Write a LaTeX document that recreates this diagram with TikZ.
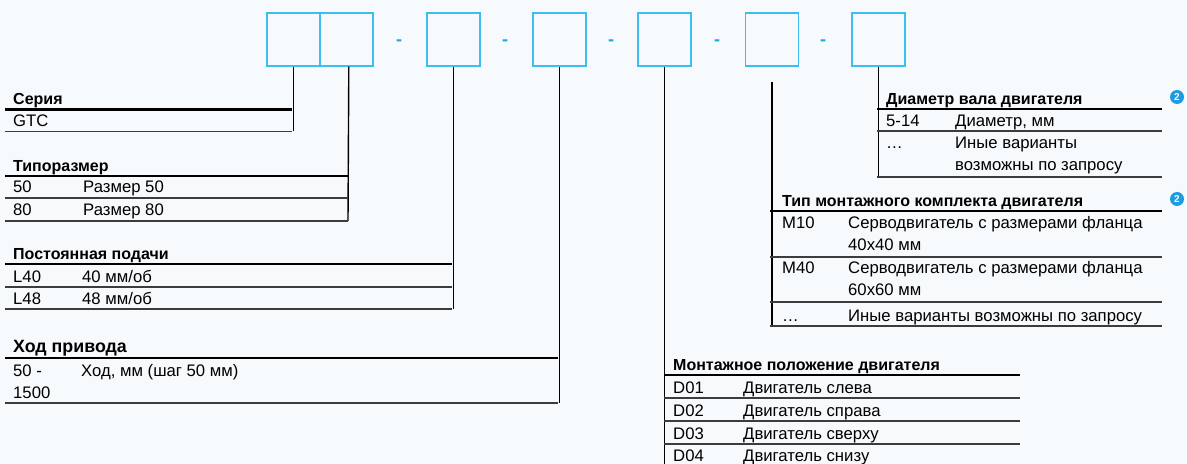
\documentclass[tikz,border=0pt]{standalone}
\usepackage{fontspec}
\setmainfont{Liberation Sans}
\definecolor{bg}{RGB}{247,250,252}
\definecolor{boxblue}{RGB}{60,190,240}
\definecolor{dashblue}{RGB}{30,165,230}
\definecolor{badgeblue}{RGB}{30,155,225}
\definecolor{rulegray}{RGB}{60,60,60}
\begin{document}
\begin{tikzpicture}[x=1bp,y=-1bp,
  codebox/.style={draw=boxblue,line width=1.6bp,minimum width=53bp,minimum height=53bp,inner sep=0,anchor=north west},
  dashtxt/.style={anchor=base,inner sep=0,text=dashblue,font=\fontsize{18bp}{18bp}\selectfont\bfseries},
  txt/.style={anchor=base west,inner sep=0,font=\fontsize{16.7bp}{22bp}\selectfont},
  ttl/.style={anchor=base west,inner sep=0,font=\fontsize{16bp}{20bp}\selectfont\bfseries},
  bigttl/.style={anchor=base west,inner sep=0,font=\fontsize{17.8bp}{22bp}\selectfont\bfseries},
  thickrule/.style={line width=2.6bp,black},
  thinrule/.style={line width=1.4bp,rulegray},
  conn/.style={line width=1.4bp,black},
  badge/.style={circle,fill=badgeblue,minimum size=14bp,inner sep=0,text=white,font=\fontsize{10bp}{10bp}\selectfont\bfseries}]
\fill[bg] (0,0) rectangle (1187,464);
\useasboundingbox (0,0) rectangle (1187,464);

% code boxes
\node[codebox] (b1) at (266,12) {};
\node[codebox] (b2) at (319,12) {};
\node[codebox] (b3) at (426,12) {};
\node[codebox] (b4) at (532,12) {};
\node[codebox] (b5) at (637,12) {};
\node[codebox] (b6) at (744.5,12) {};
\node[codebox] (b7) at (851,12) {};
% dashes
\node[dashtxt] (d1) at (399,46) {-};
\node[dashtxt] (d2) at (505,46) {-};
\node[dashtxt] (d3) at (611,46) {-};
\node[dashtxt] (d4) at (717,46) {-};
\node[dashtxt] (d5) at (823,46) {-};

% table anchor coordinates
\coordinate (serbot) at (292,131.5);
\coordinate (tipbot) at (348,221);
\coordinate (podbot) at (452,309);
\coordinate (hodbot) at (558,403);
\coordinate (montbot) at (664,464);
\coordinate (kompbot) at (770,326);
\coordinate (diambot) at (877,177);

% connectors
\draw[conn] (b1.south) -- (b1.south |- serbot);
\draw[conn] ([xshift=2.5bp]b2.south) -- (tipbot);
\draw[conn] (b3.south) -- (b3.south |- podbot);
\draw[conn] (b4.south) -- (b4.south |- hodbot);
\draw[conn] (b5.south) -- (b5.south |- montbot);
\draw[conn] ([yshift=-15bp]b6.south) -- (b6.south |- kompbot);
\draw[conn] (b7.south) -- (b7.south |- diambot);

% Серия
\node[ttl] (t1) at (13,105) {Серия};
\draw[thickrule] (5,109.5) -- (292,109.5);
\node[txt] (t1a) at (13,127) {GTC};
\draw[thinrule] (5,131.5) -- (serbot);

% Типоразмер
\node[ttl] (t2) at (13,171.5) {Типоразмер};
\draw[thickrule] (5,176) -- (348,176);
\node[txt] (t2a) at (13,193) {50};
\node[txt] (t2b) at (83,193) {Размер 50};
\draw[thinrule] (5,198) -- (348,198);
\node[txt] (t2c) at (13,216) {80};
\node[txt] (t2d) at (83,216) {Размер 80};
\draw[thinrule] (5,221) -- (tipbot);

% Постоянная подачи
\node[ttl] (t3) at (13,259.5) {Постоянная подачи};
\draw[thickrule] (5,264) -- (452,264);
\node[txt] (t3a) at (13,283) {L40};
\node[txt] (t3b) at (82,283) {40 мм/об};
\draw[thinrule] (5,287) -- (452,287);
\node[txt] (t3c) at (13,305) {L48};
\node[txt] (t3d) at (82,305) {48 мм/об};
\draw[thinrule] (5,309) -- (podbot);

% Ход привода
\node[bigttl] (t4) at (13,353) {Ход привода};
\draw[thickrule] (5,358) -- (558,358);
\node[txt] (t4a) at (13,377) {50 -};
\node[txt] (t4b) at (81,377) {Ход, мм (шаг 50 мм)};
\node[txt] (t4c) at (13,399) {1500};
\draw[thinrule] (5,403) -- (hodbot);

% Монтажное положение двигателя
\node[ttl] (t5) at (673,370.5) {Монтажное положение двигателя};
\draw[thickrule] (664,375) -- (1020,375);
\node[txt] (t5a) at (673,394) {D01};
\node[txt] (t5b) at (743,394) {Двигатель слева};
\draw[thinrule] (664,398) -- (1020,398);
\node[txt] (t5c) at (673,417) {D02};
\node[txt] (t5d) at (743,417) {Двигатель справа};
\draw[thinrule] (664,421) -- (1020,421);
\node[txt] (t5e) at (673,440) {D03};
\node[txt] (t5f) at (743,440) {Двигатель сверху};
\draw[thinrule] (664,444) -- (1020,444);
\node[txt] (t5g) at (673,462) {D04};
\node[txt] (t5h) at (743,462) {Двигатель снизу};

% Тип монтажного комплекта двигателя
\node[ttl] (t6) at (782,206.5) {Тип монтажного комплекта двигателя};
\draw[thickrule] (770,211) -- (1162,211);
\node[txt] (t6a) at (782,229) {M10};
\node[txt] (t6b) at (848,229) {Серводвигатель с размерами фланца};
\node[txt] (t6c) at (848,251) {40x40 мм};
\draw[thinrule] (770,257) -- (1162,257);
\node[txt] (t6d) at (782,274) {M40};
\node[txt] (t6e) at (848,274) {Серводвигатель с размерами фланца};
\node[txt] (t6f) at (848,296) {60x60 мм};
\draw[thinrule] (770,302) -- (1162,302);
\node[txt] (t6g) at (782,322) {…};
\node[txt] (t6h) at (848,322) {Иные варианты возможны по запросу};
\draw[thinrule] (kompbot) -- (1162,326);

% Диаметр вала двигателя
\node[ttl] (t7) at (886,104.5) {Диаметр вала двигателя};
\draw[thickrule] (877,109) -- (1162,109);
\node[txt] (t7a) at (886,127) {5-14};
\node[txt] (t7b) at (955,127) {Диаметр, мм};
\draw[thinrule] (877,131) -- (1162,131);
\node[txt] (t7c) at (886,149) {…};
\node[txt] (t7d) at (955,149) {Иные варианты};
\node[txt] (t7e) at (955,171) {возможны по запросу};
\draw[thinrule] (diambot) -- (1162,177);

% badges
\node[badge] (bd1) at (1177,97) {2};
\node[badge] (bd2) at (1177,199) {2};
\end{tikzpicture}
\end{document}
